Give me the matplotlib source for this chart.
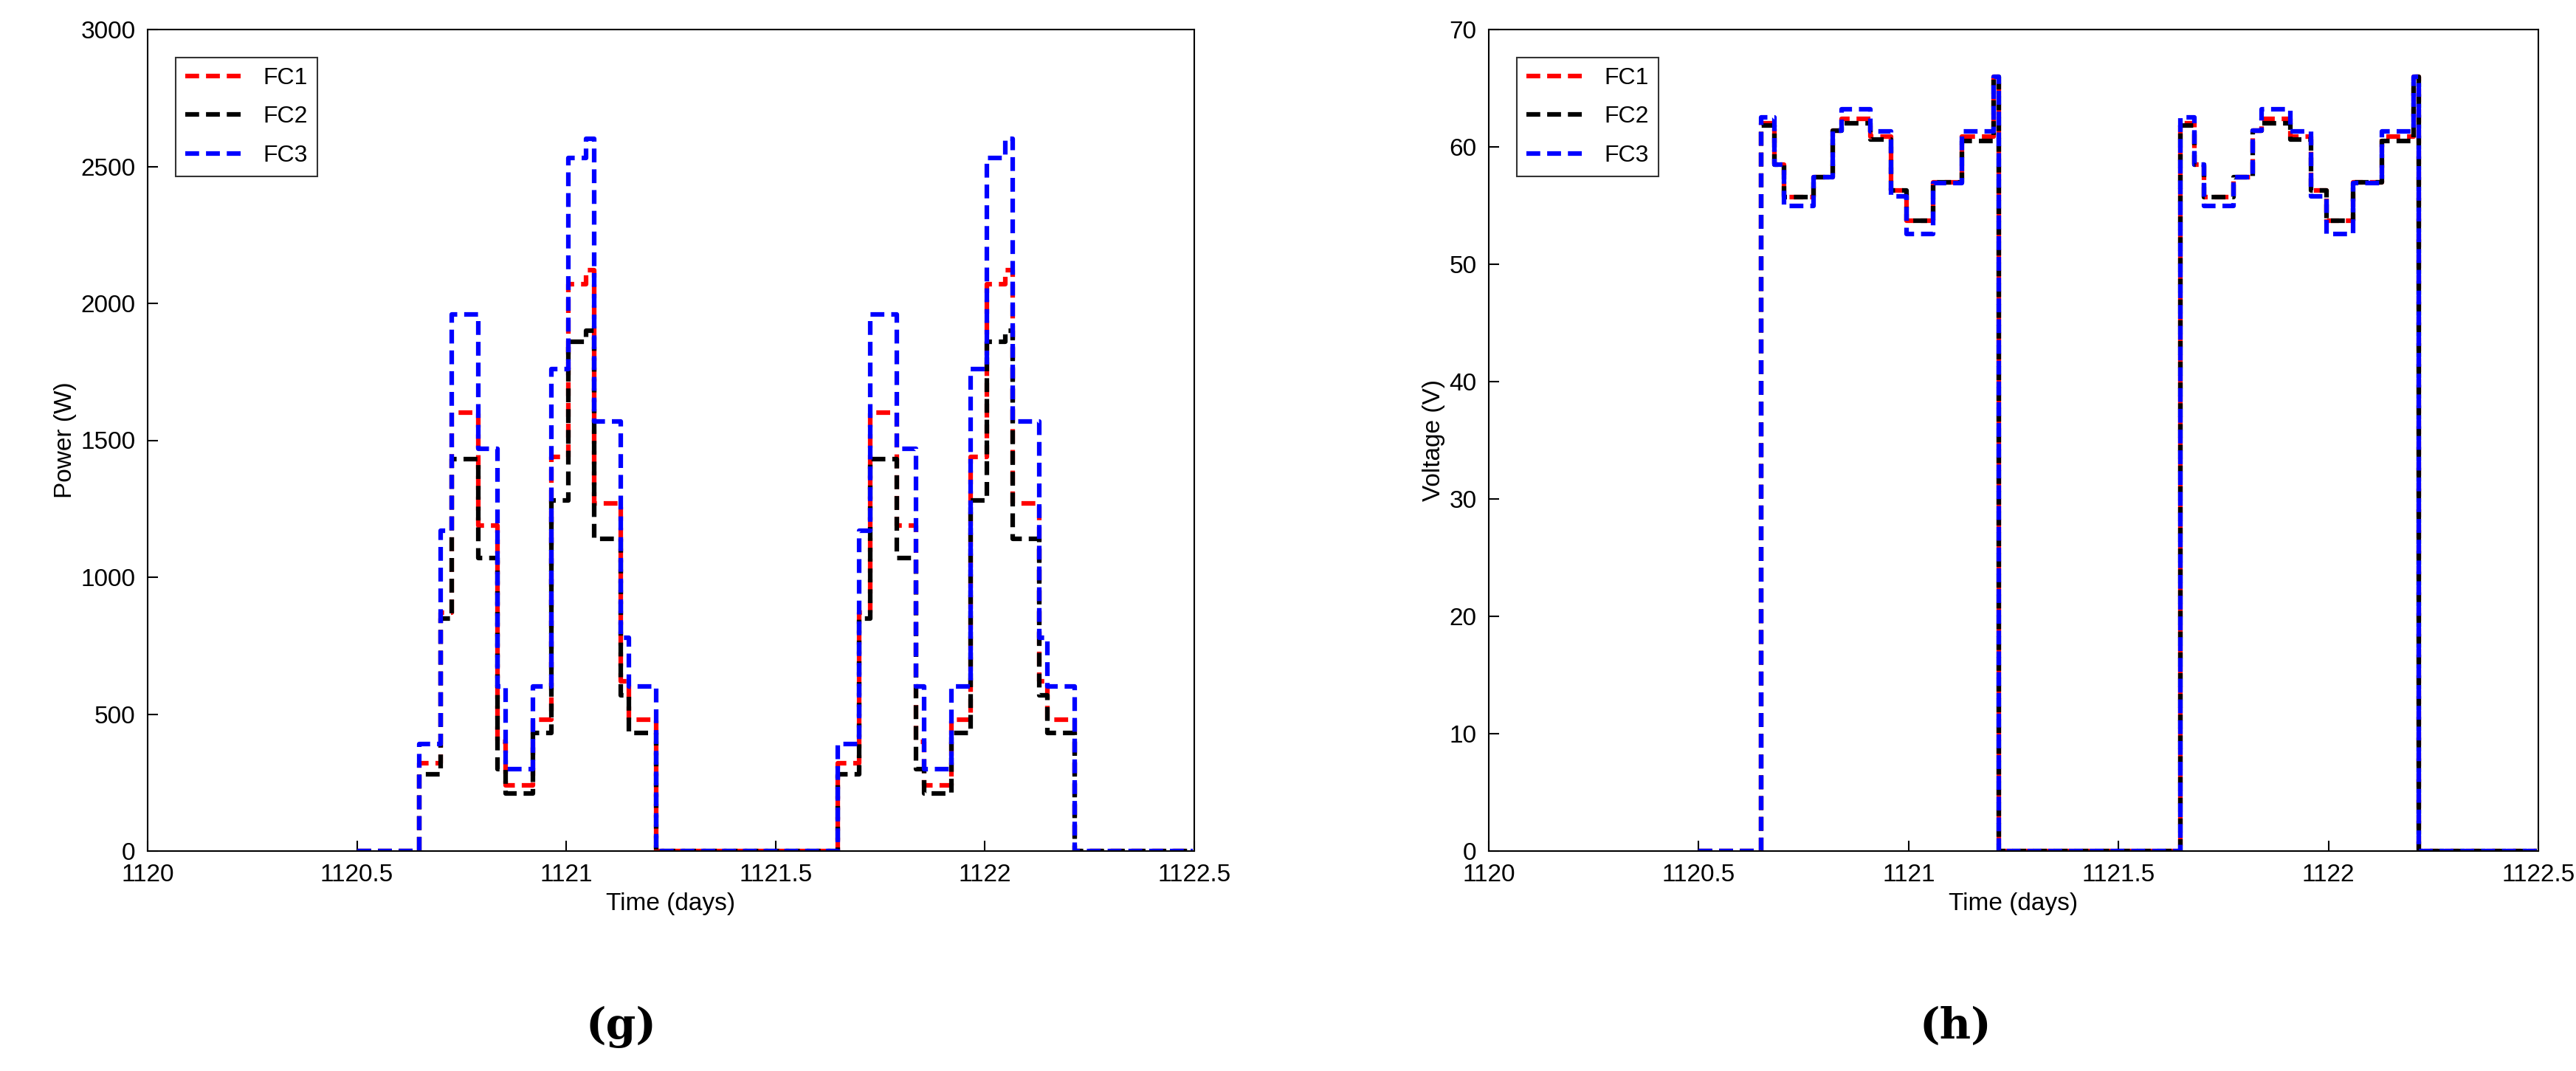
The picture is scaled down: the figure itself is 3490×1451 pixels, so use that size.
import numpy as np
import matplotlib
matplotlib.use("Agg")
import matplotlib.pyplot as plt

plt.rcParams['font.family'] = ['Liberation Sans', 'DejaVu Sans']

# Power step breakpoints (day fraction offsets from 1120) and values
p_breaks = [0.648, 0.70, 0.726, 0.79, 0.836, 0.855, 0.92, 0.965, 1.005, 1.048, 1.067, 1.13, 1.15, 1.215]
fc1_power = [320, 870, 1600, 1190, 400, 240, 480, 1440, 2070, 2120, 1270, 620, 480]
fc2_power = [280, 850, 1430, 1070, 300, 210, 430, 1280, 1860, 1900, 1140, 570, 430]
fc3_power = [390, 1170, 1960, 1470, 600, 300, 600, 1760, 2530, 2600, 1570, 780, 600]

# Voltage step breakpoints and values
v_breaks = [0.648, 0.68, 0.703, 0.774, 0.819, 0.840, 0.909, 0.958, 0.995, 1.058, 1.127, 1.203, 1.215]
fc1_volt = [62.0, 58.5, 55.7, 57.4, 61.4, 62.4, 60.9, 56.3, 53.7, 57.0, 60.9, 66.0]
fc2_volt = [61.8, 58.5, 55.7, 57.4, 61.4, 62.0, 60.6, 56.3, 53.7, 57.0, 60.5, 66.0]
fc3_volt = [62.5, 58.5, 55.0, 57.4, 61.4, 63.2, 61.3, 55.8, 52.6, 56.9, 61.3, 66.0]

days = [1120, 1121]
t_start, t_end = 1120.5, 1122.497

def build(breaks, vals):
    t = [t_start]; y = [0]
    for d in days:
        for b, v in zip(breaks[:-1], vals):
            t.append(d + b); y.append(v)
        t.append(d + breaks[-1]); y.append(0)
    t.append(t_end); y.append(0)
    return np.array(t), np.array(y)

fig = plt.figure(figsize=(34.9, 14.51), dpi=100)
W, H = 3490, 1451
axL = fig.add_axes([200/W, 1 - 1153/H, 1418/W, 1113/H])
axR = fig.add_axes([2017/W, 1 - 1153/H, 1422/W, 1113/H])

colors = ['red', 'black', 'blue']
names = ['FC1', 'FC2', 'FC3']
lw = 4.5
for ax, br, series in [(axL, p_breaks, [fc1_power, fc2_power, fc3_power]),
                       (axR, v_breaks, [fc1_volt, fc2_volt, fc3_volt])]:
    for s, c, n in zip(series, colors, names):
        t, y = build(br, s)
        ax.plot(t, y, drawstyle='steps-post', color=c, lw=lw, ls=(0, (3, 1.5)), label=n)
    ax.set_xlim(1120, 1122.5)
    ax.set_xticks([1120, 1120.5, 1121, 1121.5, 1122, 1122.5])
    ax.set_xticklabels(['1120', '1120.5', '1121', '1121.5', '1122', '1122.5'])
    ax.tick_params(labelsize=24, direction='in', length=10, width=1.5, top=False, right=False, pad=12)
    ax.set_xlabel('Time (days)', fontsize=24, labelpad=6)
    for sp in ax.spines.values():
        sp.set_linewidth(1.5)
    leg = ax.legend(loc='upper left', fontsize=23, frameon=True, fancybox=False,
                    edgecolor='black', handlelength=2.5, borderaxespad=1.2, labelspacing=0.7)
    leg.get_frame().set_linewidth(1.5)

axL.set_ylim(0, 3000)
axL.set_yticks(range(0, 3001, 500))
axL.set_ylabel('Power (W)', fontsize=24)
axR.set_ylim(0, 70)
axR.set_yticks(range(0, 71, 10))
axR.set_ylabel('Voltage (V)', fontsize=24)

fig.text(841/W, 1 - 1391/H, '(g)', fontsize=42, fontweight='bold', family='DejaVu Serif', ha='center', va='center')
fig.text(2649/W, 1 - 1391/H, '(h)', fontsize=42, fontweight='bold', family='DejaVu Serif', ha='center', va='center')

fig.savefig('out.png', dpi=100)
